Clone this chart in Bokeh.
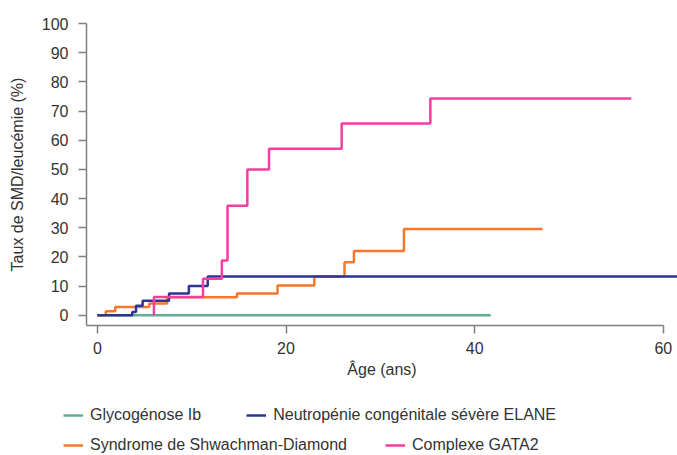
from bokeh.plotting import figure
from bokeh.models import Range1d, FixedTicker, Legend, LegendItem
from bokeh.embed import file_html
from bokeh.resources import INLINE

# ---- data ----
glyco_x = [0, 41.7]
glyco_y = [0, 0]

elane_x = [0, 3.7, 4.1, 4.8, 7.6, 9.7, 11.7, 62.0]
elane_y = [0, 1.1, 3.3, 5.0, 7.5, 10.0, 13.3, 13.3]

sds_x = [0, 0.9, 1.9, 5.5, 7.4, 14.8, 19.1, 23.0, 26.2, 27.2, 32.5, 47.2]
sds_y = [0, 1.4, 2.8, 4.0, 6.2, 7.5, 10.2, 13.3, 18.2, 22.0, 29.6, 29.6]

gata2_x = [6.0, 6.0, 11.2, 13.2, 13.8, 15.9, 18.2, 25.9, 35.3, 56.6]
gata2_y = [0, 6.25, 12.5, 18.75, 37.5, 50.0, 57.1, 65.7, 74.3, 74.3]

x_ticks = [0, 20, 40, 60]
y_ticks = [0, 10, 20, 30, 40, 50, 60, 70, 80, 90, 100]

labels = ["Glycogénose Ib", "Neutropénie congénitale sévère ELANE",
          "Syndrome de Shwachman-Diamond", "Complexe GATA2"]
colors = ["#5fae93", "#2b3593", "#f5782a", "#f23f9f"]

FONT = "Liberation Sans"
TXT = "#333333"
AX = "#808080"

p = figure(width=677, height=395, output_backend="svg", toolbar_location=None,
           x_range=Range1d(-1.15, 61.5), y_range=Range1d(-3.5, 100),
           min_border_left=86, min_border_right=0, min_border_top=23,
           min_border_bottom=70)
p.outline_line_color = None
p.grid.visible = False
p.background_fill_color = "white"
p.border_fill_color = "white"

p.step(glyco_x, glyco_y, mode="after", line_color=colors[0], line_width=2.5)
p.step(sds_x, sds_y, mode="after", line_color=colors[2], line_width=2.5)
p.step(elane_x, elane_y, mode="after", line_color=colors[1], line_width=2.5)
p.step(gata2_x, gata2_y, mode="after", line_color=colors[3], line_width=2.5)

for ax in (p.xaxis[0], p.yaxis[0]):
    ax.axis_line_color = AX
    ax.axis_line_width = 1.5
    ax.major_tick_line_color = AX
    ax.major_tick_line_width = 1.5
    ax.major_tick_out = 8
    ax.major_tick_in = 0
    ax.minor_tick_line_color = None
    ax.major_label_text_font = FONT
    ax.major_label_text_font_size = "16px"
    ax.major_label_text_color = TXT
    ax.axis_label_text_font = FONT
    ax.axis_label_text_font_size = "16px"
    ax.axis_label_text_font_style = "normal"
    ax.axis_label_text_color = TXT

p.xaxis.ticker = FixedTicker(ticks=x_ticks)
p.xaxis.bounds = (-1.15, 60)
p.xaxis.major_label_standoff = 8
p.xaxis.axis_label = "Âge (ans)"
p.xaxis.axis_label_standoff = 4

p.yaxis.ticker = FixedTicker(ticks=y_ticks)
p.yaxis.major_label_standoff = 10
p.yaxis.axis_label = "Taux de SMD/leucémie (%)"
p.yaxis.axis_label_standoff = 13

# ---- legend area (separate root figure; proxy lines re-use the series data,
#      which lies outside this figure's visible range) ----
q = figure(width=677, height=60, output_backend="svg", toolbar_location=None,
           x_axis_type=None, y_axis_type=None,
           x_range=Range1d(-1000, -999), y_range=Range1d(-1000, -999),
           min_border_left=0, min_border_right=0, min_border_top=0,
           min_border_bottom=0)
q.outline_line_color = None
q.grid.visible = False
q.border_fill_color = "white"

series = [(glyco_x, glyco_y), (elane_x, elane_y), (sds_x, sds_y), (gata2_x, gata2_y)]
proxies = [q.line(x=sx, y=sy, line_color=c, line_width=2.5)
           for (sx, sy), c in zip(series, colors)]

common = dict(border_line_alpha=0, background_fill_alpha=0, padding=0, margin=0,
              orientation="horizontal", glyph_width=20, glyph_height=20,
              label_height=20, label_standoff=7,
              label_text_font=FONT, label_text_font_size="16px",
              label_text_color=TXT)

leg1 = Legend(items=[LegendItem(label=labels[0], renderers=[proxies[0]]),
                     LegendItem(label=labels[1], renderers=[proxies[1]])],
              location=(63, 30), spacing=45, **common)
leg2 = Legend(items=[LegendItem(label=labels[2], renderers=[proxies[2]]),
                     LegendItem(label=labels[3], renderers=[proxies[3]])],
              location=(63, 0), spacing=38, **common)
q.add_layout(leg1)
q.add_layout(leg2)

open("out.html", "w").write(file_html([p, q], INLINE))
